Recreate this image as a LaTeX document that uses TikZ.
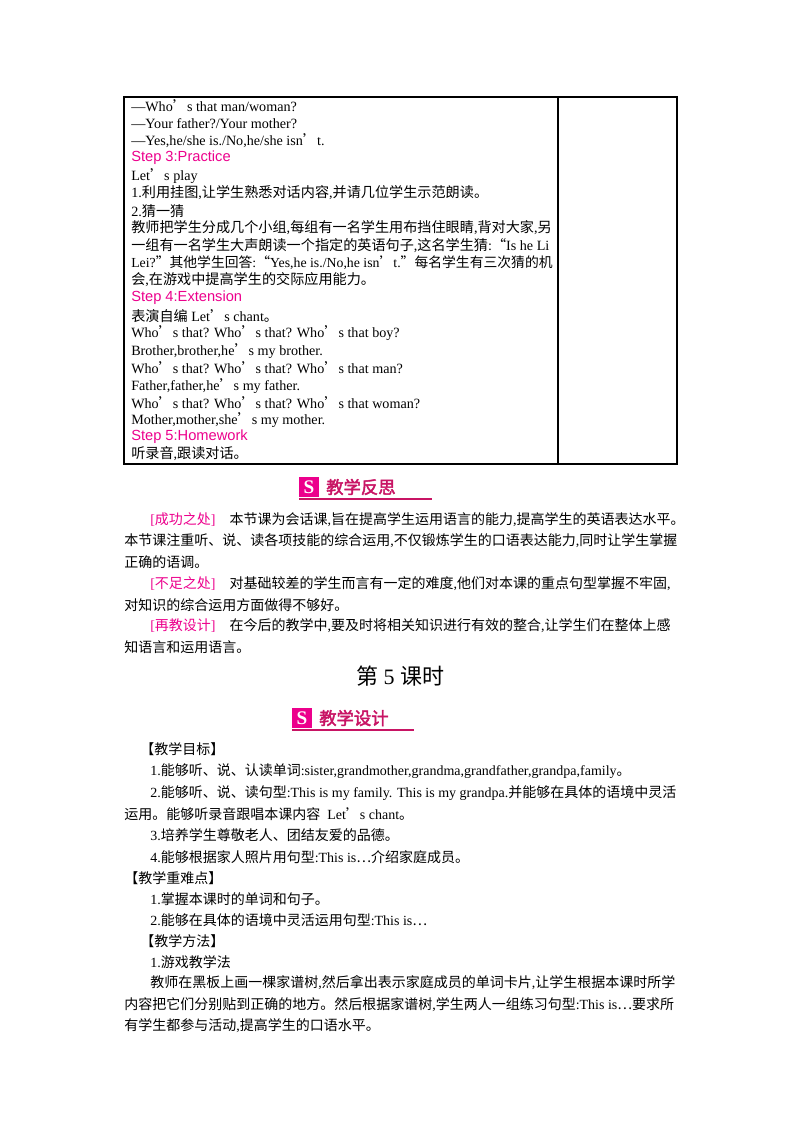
\documentclass[tikz,border=0pt]{standalone}
\usepackage{fontspec}
\usepackage{graphicx}
\setmainfont{Liberation Serif}
\newfontfamily\cjk{Noto Sans CJK SC}
\newfontfamily\lat{Liberation Serif}
\newfontfamily\stepfont{Liberation Sans}
\newfontfamily\cjkhead[FakeBold=2.5]{Noto Sans CJK SC}
\definecolor{mag}{RGB}{236,0,140}
\definecolor{headc}{RGB}{200,20,100}
\XeTeXinterchartokenstate=1
\newXeTeXintercharclass\CJKcls
\count255="3000
\loop\XeTeXcharclass\count255=\CJKcls\ifnum\count255<"9FFF\advance\count255 1\repeat
\count255="FF00
\loop\XeTeXcharclass\count255=\CJKcls\ifnum\count255<"FFEF\advance\count255 1\repeat
\XeTeXcharclass"2018=\CJKcls \XeTeXcharclass"2019=\CJKcls
\XeTeXcharclass"201C=\CJKcls \XeTeXcharclass"201D=\CJKcls
\XeTeXcharclass"2026=\CJKcls
\XeTeXinterchartoks 0 \CJKcls={\cjk}
\XeTeXinterchartoks 4095 \CJKcls={\cjk}
\XeTeXinterchartoks \CJKcls 0={\lat}
\XeTeXinterchartoks \CJKcls 4095={\lat}
\begin{document}
\begin{tikzpicture}[x=0.75pt,y=-0.75pt,
  tl/.style={anchor=west,inner sep=0pt,font=\fontsize{10.6}{12}\selectfont},
  st/.style={anchor=west,inner sep=0pt,text=mag,font=\stepfont\fontsize{11}{12}\selectfont},
  bl/.style={anchor=west,inner sep=0pt,font=\fontsize{10.5}{12}\selectfont},
  hd/.style={anchor=west,inner sep=0pt,text=headc,font=\cjkhead\fontsize{13}{14}\selectfont}]
\useasboundingbox (0,0) rectangle (800,1132);
% table
\draw[line width=0.8pt] (124,97) rectangle (677,464);
\draw[line width=0.8pt] (558,97) -- (558,464);
\node[tl] (t1) at (131,106) {—Who’s that man/woman?};
\node[tl] (t2) at (131,124) {—Your father?/Your mother?};
\node[tl] (t3) at (131,141) {—Yes,he/she is./No,he/she isn’t.};
\node[st] (t4) at (131,158) {Step 3:Practice};
\node[tl] (t5) at (131,176) {Let’s play};
\node[tl] (t6) at (131,193) {1.利用挂图,让学生熟悉对话内容,并请几位学生示范朗读。};
\node[tl] (t7) at (131,211) {2.猜一猜};
\node[tl] (t8) at (131,228) {教师把学生分成几个小组,每组有一名学生用布挡住眼睛,背对大家,另};
\node[tl] (t9) at (131,246) {一组有一名学生大声朗读一个指定的英语句子,这名学生猜:“Is he Li};
\node[tl] (t10) at (131,263) {\resizebox{316pt}{!}{Lei?”其他学生回答:“Yes,he is./No,he isn’t.”每名学生有三次猜的机}};
\node[tl] (t11) at (131,280) {会,在游戏中提高学生的交际应用能力。};
\node[st] (t12) at (131,298) {Step 4:Extension};
\node[tl] (t13) at (131,316) {表演自编 Let’s chant。};
\node[tl] (t14) at (131,333) {Who’s that? Who’s that? Who’s that boy?};
\node[tl] (t15) at (131,351) {Brother,brother,he’s my brother.};
\node[tl] (t16) at (131,368) {Who’s that? Who’s that? Who’s that man?};
\node[tl] (t17) at (131,386) {Father,father,he’s my father.};
\node[tl] (t18) at (131,403) {Who’s that? Who’s that? Who’s that woman?};
\node[tl] (t19) at (131,420) {Mother,mother,she’s my mother.};
\node[st] (t20) at (131,437) {Step 5:Homework};
\node[tl] (t21) at (131,454) {听录音,跟读对话。};
% header 1
\fill[mag] (299,477) rectangle (319,497);
\node[text=white,font=\bfseries\Large,inner sep=0] (i1) at (309,487) {S};
\node[hd] (h1) at (326,487) {\XeTeXinterchartokenstate=0 教学反思};
\draw[headc,line width=1pt] (299,499) -- (432,499);
% reflection
\node[bl] (r1) at (150,520) {\textcolor{mag}{[成功之处]}\quad 本节课为会话课,旨在提高学生运用语言的能力,提高学生的英语表达水平。};
\node[bl] (r2) at (124,541) {本节课注重听、说、读各项技能的综合运用,不仅锻炼学生的口语表达能力,同时让学生掌握};
\node[bl] (r3) at (124,562) {正确的语调。};
\node[bl] (r4) at (150,584) {\textcolor{mag}{[不足之处]}\quad 对基础较差的学生而言有一定的难度,他们对本课的重点句型掌握不牢固,};
\node[bl] (r5) at (124,605) {对知识的综合运用方面做得不够好。};
\node[bl] (r6) at (150,626) {\textcolor{mag}{[再教设计]}\quad 在今后的教学中,要及时将相关知识进行有效的整合,让学生们在整体上感};
\node[bl] (r7) at (124,647) {知语言和运用语言。};
\node[inner sep=0,font=\fontsize{16.5}{18}\selectfont] (title) at (400,676) {第 5 课时};
% header 2
\fill[mag] (292,708) rectangle (312,728);
\node[text=white,font=\bfseries\Large,inner sep=0] (i2) at (302,718) {S};
\node[hd] (h2) at (319,718) {\XeTeXinterchartokenstate=0 教学设计};
\draw[headc,line width=1pt] (292,730) -- (414,730);
% plan
\node[bl] (p1) at (140,749) {【教学目标】};
\node[bl] (p2) at (150,771) {1.能够听、说、认读单词:sister,grandmother,grandma,grandfather,grandpa,family。};
\node[bl] (p3) at (150,793) {2.能够听、说、读句型:This is my family. This is my grandpa.并能够在具体的语境中灵活};
\node[bl] (p4) at (124,814) {运用。能够听录音跟唱本课内容\ \ Let’s chant。};
\node[bl] (p5) at (150,835) {3.培养学生尊敬老人、团结友爱的品德。};
\node[bl] (p6) at (150,857) {4.能够根据家人照片用句型:This is…介绍家庭成员。};
\node[bl] (p7) at (124,878) {【教学重难点】};
\node[bl] (p8) at (150,899) {1.掌握本课时的单词和句子。};
\node[bl] (p9) at (150,920) {2.能够在具体的语境中灵活运用句型:This is…};
\node[bl] (p10) at (140,941) {【教学方法】};
\node[bl] (p11) at (150,962) {1.游戏教学法};
\node[bl] (p12) at (150,983) {教师在黑板上画一棵家谱树,然后拿出表示家庭成员的单词卡片,让学生根据本课时所学};
\node[bl] (p13) at (124,1005) {内容把它们分别贴到正确的地方。然后根据家谱树,学生两人一组练习句型:This is…要求所};
\node[bl] (p14) at (124,1026) {有学生都参与活动,提高学生的口语水平。};
\end{tikzpicture}
\end{document}
